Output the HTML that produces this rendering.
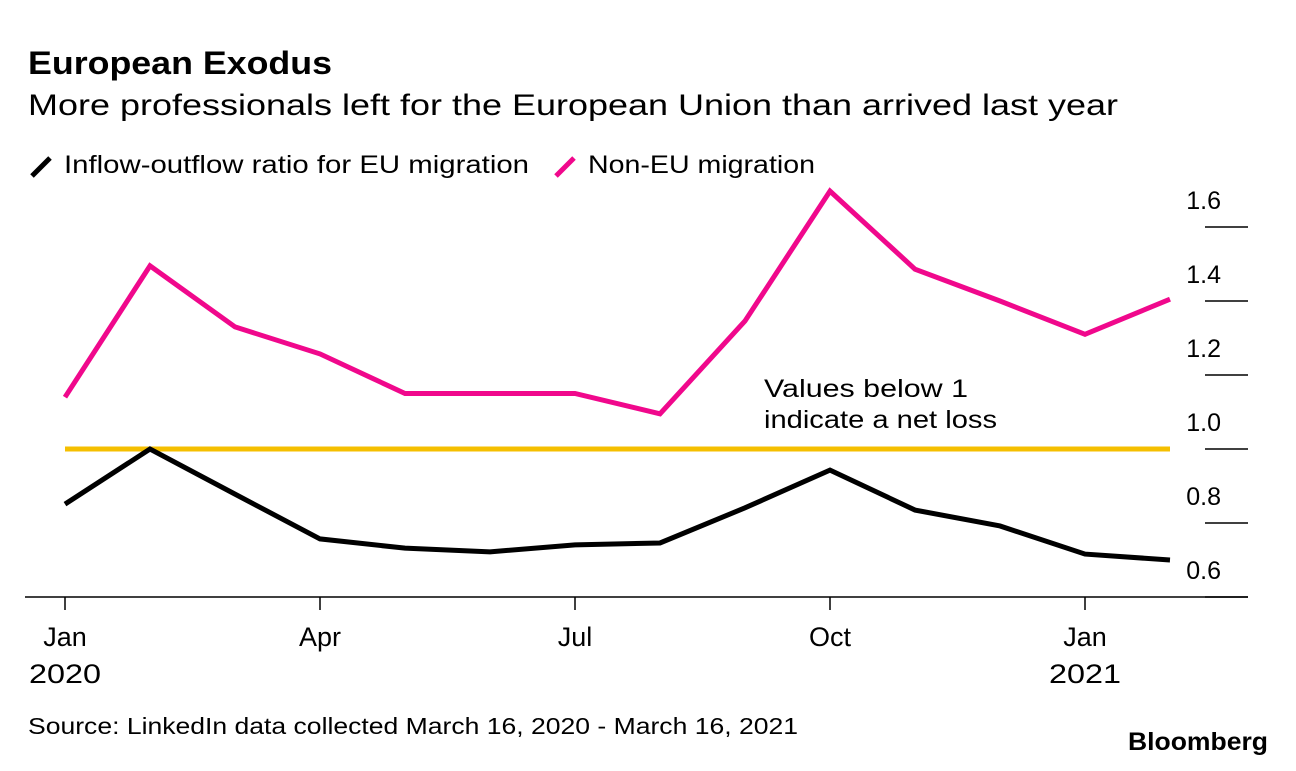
<!DOCTYPE html>
<html><head><meta charset="utf-8"><style>
body{margin:0;background:#fff;font-family:"Liberation Sans",sans-serif;}
svg text{font-family:"Liberation Sans",sans-serif;fill:#000;}
</style></head><body>
<svg width="1296" height="766" xmlns="http://www.w3.org/2000/svg">
<text x="28" y="74" font-size="32" font-weight="bold" textLength="304" lengthAdjust="spacingAndGlyphs">European Exodus</text>
<text x="28" y="115" font-size="30" textLength="1090" lengthAdjust="spacingAndGlyphs">More professionals left for the European Union than arrived last year</text>
<g>
<line x1="32" y1="176" x2="50" y2="158" stroke="#000" stroke-width="5"/>
<text x="64" y="173" font-size="25" textLength="465" lengthAdjust="spacingAndGlyphs">Inflow-outflow ratio for EU migration</text>
<line x1="556" y1="176" x2="574" y2="158" stroke="#f0088c" stroke-width="5"/>
<text x="588" y="173" font-size="25" textLength="227" lengthAdjust="spacingAndGlyphs">Non-EU migration</text>
</g>
<g id="axes"></g>
<g id="marks"></g>
<text x="764" y="397" font-size="25" textLength="204" lengthAdjust="spacingAndGlyphs">Values below 1</text>
<text x="764" y="428" font-size="25" textLength="233" lengthAdjust="spacingAndGlyphs">indicate a net loss</text>
<text x="28" y="734" font-size="23" textLength="770" lengthAdjust="spacingAndGlyphs">Source: LinkedIn data collected March 16, 2020 - March 16, 2021</text>
<text x="1128" y="750" font-size="25" font-weight="bold" textLength="140" lengthAdjust="spacingAndGlyphs">Bloomberg</text>
</svg>
<script>
const monthIndex=[0,1,2,3,4,5,6,7,8,9,10,11,12,13];
const nonEU=[1.14,1.495,1.33,1.257,1.15,1.15,1.15,1.095,1.346,1.697,1.486,1.40,1.31,1.405];
const euRatio=[0.851,1.0,0.878,0.757,0.732,0.722,0.741,0.746,0.841,0.943,0.835,0.792,0.716,0.70];
const yTicks=[0.6,0.8,1.0,1.2,1.4,1.6];
const xTickMonths=[0,3,6,9,12];
const xTickLabels=["Jan","Apr","Jul","Oct","Jan"];
const xTickYears=["2020","","","","2021"];
const referenceValue=1.0;
const NS="http://www.w3.org/2000/svg";
function x(m){return 65+m*((1085-65)/12);}
function y(v){return 449-(v-1)*370;}
function mk(tag,attrs,parent){const e=document.createElementNS(NS,tag);for(const k in attrs)e.setAttribute(k,attrs[k]);parent.appendChild(e);return e;}
const axes=document.getElementById('axes'),marks=document.getElementById('marks');
yTicks.forEach(t=>{
 const l=mk('line',{x1:1205,x2:1248,y1:y(t),y2:y(t),stroke:'#000','stroke-width':1.5},axes);
 
 
 const tx=mk('text',{x:1221,y:y(t)-18,'font-size':25,'text-anchor':'end'},axes);
 tx.textContent=t.toFixed(1);
 
 
});
const ax=mk('line',{x1:25,x2:1248,y1:597,y2:597,stroke:'#000','stroke-width':1.5},axes);


xTickMonths.forEach((m,i)=>{
 const l=mk('line',{x1:x(m),x2:x(m),y1:597,y2:610,stroke:'#000','stroke-width':1.5},axes);
 
 
 const t=mk('text',{x:x(m),y:646,'font-size':27,'text-anchor':'middle'},axes);
 t.textContent=xTickLabels[i];
 
 
 if(xTickYears[i]){const t2=mk('text',{x:x(m),y:683,'font-size':27,'text-anchor':'middle',textLength:72,lengthAdjust:'spacingAndGlyphs'},axes);
 t2.textContent=xTickYears[i];
 
 }
});
const ref=mk('line',{x1:x(0),x2:x(13),y1:y(referenceValue),y2:y(referenceValue),stroke:'#f5bf00','stroke-width':5},marks);


function line(vals,color,name){
 const p=mk('polyline',{points:vals.map((v,i)=>x(monthIndex[i])+','+y(v)).join(' '),fill:'none',stroke:color,'stroke-width':5,'stroke-linejoin':'miter'},marks);
 
 
}
line(nonEU,'#f0088c','non-eu-line');
line(euRatio,'#000','eu-ratio-line');
</script>
</body></html>
